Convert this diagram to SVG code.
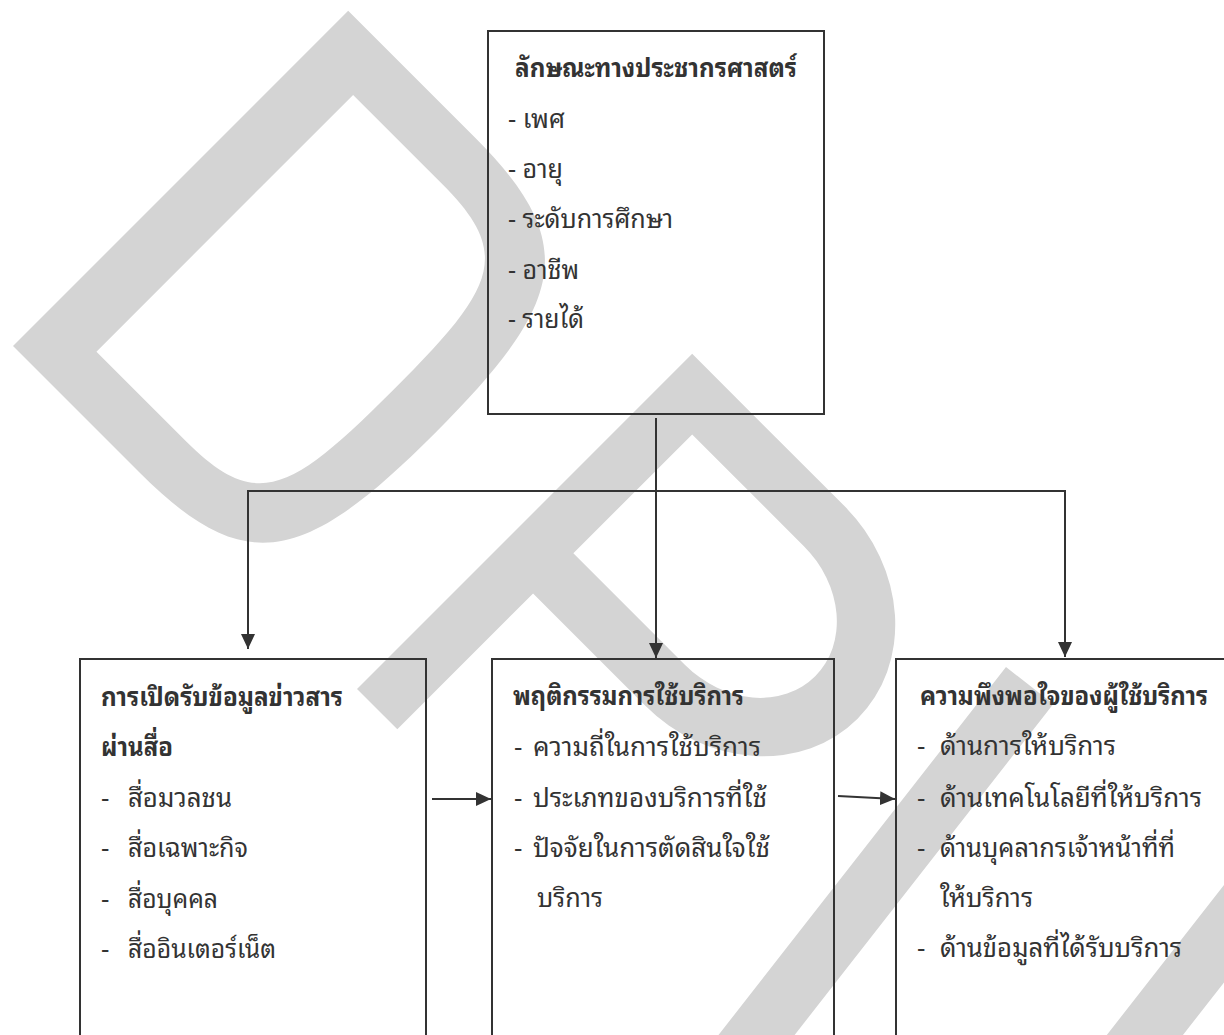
<svg xmlns="http://www.w3.org/2000/svg" width="1224" height="1035" viewBox="0 0 1224 1035">
  <defs>
    <style>
      .wm { fill: #d4d4d4; fill-rule: evenodd; }
      .box { fill: none; stroke: #333333; stroke-width: 2; }
      .line { fill: none; stroke: #333333; stroke-width: 2; }
      text { font-family: "Noto Sans Thai Looped", "Noto Serif Thai", "Kinnari", "Norasi", "Laksaman", "Garuda", "Loma", "Noto Sans Thai", "Tlwg Typo", "DejaVu Sans", sans-serif; font-size: 26px; fill: #333333; }
      .t { font-weight: bold; }
    </style>
    <marker id="ah" markerUnits="userSpaceOnUse" markerWidth="16" markerHeight="14" refX="15" refY="7" orient="auto">
      <path d="M0,0 L15,7 L0,14 Z" fill="#333333"/>
    </marker>
  </defs>
  <rect width="1224" height="1035" fill="#ffffff"/>
  <g id="watermark">
    <path class="wm" transform="translate(13,346) rotate(-45)" d="M0,0 L474,0 L474,180 C474,330 420,360 237,360 C54,360 0,330 0,180 Z M55,63 L418,63 L418,190 C418,290 380,300 237,300 C94,300 55,290 55,190 Z"/>
    <path class="wm" transform="translate(357,689) rotate(-45)" d="M0,0 L474,0 L474,215 A141,160 0 0 1 192,215 L192,57 L0,57 Z M249,57 L417,57 L417,215 A84,100 0 0 1 249,215 Z"/>
    <path class="wm" transform="translate(1006,667) rotate(-52)" d="M0,0 L-600,0 A183,183 0 0 0 -600,366 L0,366 L0,306 L-600,306 A123,123 0 0 1 -600,60 L0,60 Z"/>
  </g>
  <g id="connectors">
    <line class="line" x1="656" y1="418" x2="656" y2="658" marker-end="url(#ah)"/>
    <polyline class="line" points="1065,657 1065,491 248,491 248,649" marker-end="url(#ah)"/>
    <line class="line" x1="1065" y1="491" x2="1065" y2="657" marker-end="url(#ah)"/>
    <line class="line" x1="432" y1="799" x2="491" y2="799" marker-end="url(#ah)"/>
    <line class="line" x1="838" y1="796" x2="895" y2="799" marker-end="url(#ah)"/>
  </g>
  <g id="node-demographics">
    <rect class="box" x="488" y="31" width="336" height="383"/>
    <text class="t" x="515" y="77" textLength="282" lengthAdjust="spacingAndGlyphs">ลักษณะทางประชากรศาสตร์</text>
    <text x="508" y="128" textLength="57" lengthAdjust="spacingAndGlyphs">-  เพศ</text>
    <text x="508" y="178" textLength="55" lengthAdjust="spacingAndGlyphs">- อายุ</text>
    <text x="508" y="228" textLength="165" lengthAdjust="spacingAndGlyphs">- ระดับการศึกษา</text>
    <text x="508" y="279" textLength="71" lengthAdjust="spacingAndGlyphs">- อาชีพ</text>
    <text x="508" y="328" textLength="76" lengthAdjust="spacingAndGlyphs">- รายได้</text>
  </g>
  <g id="node-media">
    <rect class="box" x="80" y="659" width="346" height="420"/>
    <text class="t" x="101" y="706" textLength="242" lengthAdjust="spacingAndGlyphs">การเปิดรับข้อมูลข่าวสาร</text>
    <text class="t" x="101" y="756" textLength="72" lengthAdjust="spacingAndGlyphs">ผ่านสื่อ</text>
    <text x="101" y="807">-</text>
    <text x="128" y="807" textLength="104" lengthAdjust="spacingAndGlyphs">สื่อมวลชน</text>
    <text x="101" y="857">-</text>
    <text x="128" y="857" textLength="120" lengthAdjust="spacingAndGlyphs">สื่อเฉพาะกิจ</text>
    <text x="101" y="908">-</text>
    <text x="128" y="908" textLength="90" lengthAdjust="spacingAndGlyphs">สื่อบุคคล</text>
    <text x="101" y="958">-</text>
    <text x="128" y="958" textLength="148" lengthAdjust="spacingAndGlyphs">สื่ออินเตอร์เน็ต</text>
  </g>
  <g id="node-behavior">
    <rect class="box" x="492" y="659" width="342" height="420"/>
    <text class="t" x="513" y="705" textLength="231" lengthAdjust="spacingAndGlyphs">พฤติกรรมการใช้บริการ</text>
    <text x="514" y="756">-</text>
    <text x="533" y="756" textLength="228" lengthAdjust="spacingAndGlyphs">ความถี่ในการใช้บริการ</text>
    <text x="514" y="807">-</text>
    <text x="533" y="807" textLength="234" lengthAdjust="spacingAndGlyphs">ประเภทของบริการที่ใช้</text>
    <text x="514" y="857">-</text>
    <text x="533" y="857" textLength="237" lengthAdjust="spacingAndGlyphs">ปัจจัยในการตัดสินใจใช้</text>
    <text x="537" y="907" textLength="66" lengthAdjust="spacingAndGlyphs">บริการ</text>
  </g>
  <g id="node-satisfaction">
    <rect class="box" x="896" y="659" width="346" height="420"/>
    <text class="t" x="920" y="705" font-size="24" textLength="288" lengthAdjust="spacingAndGlyphs">ความพึงพอใจของผู้ใช้บริการ</text>
    <text x="917" y="755">-</text>
    <text x="940" y="755" textLength="176" lengthAdjust="spacingAndGlyphs">ด้านการให้บริการ</text>
    <text x="917" y="807">-</text>
    <text x="940" y="807" textLength="262" lengthAdjust="spacingAndGlyphs">ด้านเทคโนโลยีที่ให้บริการ</text>
    <text x="917" y="857">-</text>
    <text x="940" y="857" textLength="235" lengthAdjust="spacingAndGlyphs">ด้านบุคลากรเจ้าหน้าที่ที่</text>
    <text x="940" y="907" textLength="93" lengthAdjust="spacingAndGlyphs">ให้บริการ</text>
    <text x="917" y="957">-</text>
    <text x="940" y="957" textLength="242" lengthAdjust="spacingAndGlyphs">ด้านข้อมูลที่ได้รับบริการ</text>
  </g>
</svg>
